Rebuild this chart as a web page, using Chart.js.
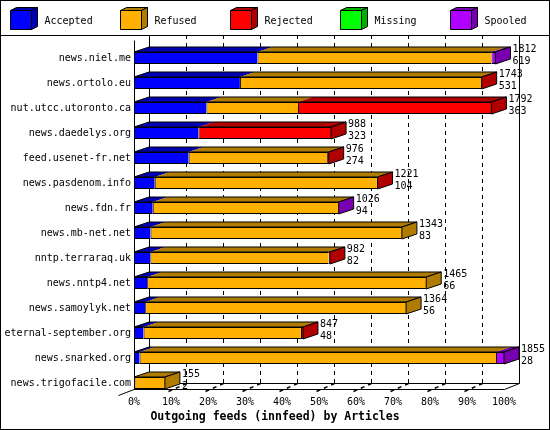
<!DOCTYPE html>
<html>
<head>
<meta charset="utf-8">
<script src="https://cdn.jsdelivr.net/npm/chart.js@4"></script>
<style>
html, body { margin: 0; padding: 0; background: #fff; }
canvas { display: block; }
</style>
</head>
<body>
<canvas id="myChart" width="550" height="430"></canvas>
<script>
// articles per outgoing feed
var hosts = ["news.niel.me", "news.ortolo.eu", "nut.utcc.utoronto.ca", "news.daedelys.org",
    "feed.usenet-fr.net", "news.pasdenom.info", "news.fdn.fr", "news.mb-net.net",
    "nntp.terraraq.uk", "news.nntp4.net", "news.samoylyk.net", "eternal-september.org",
    "news.snarked.org", "news.trigofacile.com"];
var accepted = [619, 531, 363, 323, 274, 104, 94, 83, 82, 66, 56, 48, 28, 2];
var refused  = [1173, 1210, 459, 0, 694, 1114, 929, 1260, 894, 1399, 1308, 789, 1787, 153];
var rejected = [0, 2, 970, 665, 8, 3, 0, 0, 6, 0, 0, 10, 0, 0];
var missing  = [0, 0, 0, 0, 0, 0, 0, 0, 0, 0, 0, 0, 0, 0];
var spooled  = [20, 0, 0, 0, 0, 0, 3, 0, 0, 0, 0, 0, 40, 0];
var seriesNames = ["Accepted", "Refused", "Rejected", "Missing", "Spooled"];
var tickPercents = [0, 10, 20, 30, 40, 50, 60, 70, 80, 90, 100];
var titleText = "Outgoing feeds (innfeed) by Articles";

// colours
var frontColors = ["#0000ff", "#ffb000", "#ff0000", "#00ff00", "#b000ff"];
var darkColors  = ["#0000b0", "#b07c00", "#b00000", "#00b000", "#7800b0"];

var FONT = '"DejaVu Sans Mono", "Liberation Mono", monospace';
var DX = 15, DY = -5;      // bar depth
var WDX = 15, WDY = -6;    // wall depth
var TOP_LINE = 35;

var series = [accepted, refused, rejected, missing, spooled];
var totals = hosts.map(function (h, i) {
    var s = 0;
    for (var k = 0; k < series.length; k++) s += series[k][i];
    return s;
});
var maxTotal = Math.max.apply(null, totals);

function poly(ctx, pts, fill, stroke) {
    ctx.beginPath();
    ctx.moveTo(pts[0][0], pts[0][1]);
    for (var i = 1; i < pts.length; i++) ctx.lineTo(pts[i][0], pts[i][1]);
    ctx.closePath();
    if (fill) { ctx.fillStyle = fill; ctx.fill(); }
    if (stroke) { ctx.strokeStyle = stroke; ctx.lineWidth = 1; ctx.stroke(); }
}

function line(ctx, x1, y1, x2, y2, dash) {
    ctx.beginPath();
    ctx.setLineDash(dash || []);
    ctx.moveTo(x1, y1);
    ctx.lineTo(x2, y2);
    ctx.stroke();
    ctx.setLineDash([]);
}

var bar3d = {
    id: "bar3d",
    beforeDraw: function (chart) {
        var ctx = chart.ctx;
        ctx.save();
        ctx.fillStyle = "#fff";
        ctx.fillRect(0, 0, chart.width, chart.height);
        ctx.restore();
    },
    beforeDatasetsDraw: function (chart) {
        // the 3d box: back wall, floor, axis
        var ctx = chart.ctx, xs = chart.scales.x, a = chart.chartArea;
        var meta = chart.getDatasetMeta(0);
        var last = meta.data[meta.data.length - 1];
        var floorY = Math.round(last.y + last.height / 2) + 0.5;
        var backY = floorY + WDY;
        var x0 = Math.round(xs.getPixelForValue(0)) + 0.5;
        var x1 = Math.round(xs.getPixelForValue(maxTotal)) + 0.5;
        ctx.save();
        ctx.strokeStyle = "#000";
        ctx.lineWidth = 1;
        for (var k = 1; k < tickPercents.length - 1; k++) {
            var xp = Math.round(xs.getPixelForValue(tickPercents[k] * maxTotal / 100)) + 0.5;
            line(ctx, xp + WDX, TOP_LINE, xp + WDX, backY, [4, 4]);
            ctx.lineWidth = 1.5;
            line(ctx, xp - 3, floorY + 2, xp + WDX, backY, [4, 4]);
            ctx.lineWidth = 1;
        }
        line(ctx, x0 + WDX, TOP_LINE, x0 + WDX, backY);
        line(ctx, x1 + WDX, TOP_LINE, x1 + WDX, backY);
        line(ctx, x0 + WDX, backY, x1 + WDX, backY);
        line(ctx, x0, floorY, x1, floorY);
        line(ctx, x0 - 16, floorY + 6, x0 + WDX, backY);
        line(ctx, x1, floorY, x1 + WDX, backY);
        line(ctx, x0, a.top - 5, x0, floorY);
        ctx.restore();
    },
    afterDatasetsDraw: function (chart) {
        var ctx = chart.ctx;
        var metas = chart.data.datasets.map(function (d, k) { return chart.getDatasetMeta(k); });
        ctx.save();
        for (var i = 0; i < hosts.length; i++) {
            var segs = [];
            for (var k = 0; k < metas.length; k++) {
                if (series[k][i] > 0) segs.push({ el: metas[k].data[i], k: k });
            }
            if (!segs.length) continue;
            var first = segs[0].el, lastSeg = segs[segs.length - 1];
            var top = first.y - first.height / 2, bottom = first.y + first.height / 2;
            var xs0 = first.base, xe = lastSeg.el.x;
            segs.forEach(function (s) {
                var b = s.el.base, e = s.el.x;
                poly(ctx, [[b, top], [e, top], [e + DX, top + DY], [b + DX, top + DY]], darkColors[s.k]);
            });
            poly(ctx, [[xs0, top], [xe, top], [xe + DX, top + DY], [xs0 + DX, top + DY]], null, "#000");
            poly(ctx, [[xe, top], [xe + DX, top + DY], [xe + DX, bottom + DY], [xe, bottom]],
                darkColors[lastSeg.k], "#000");
            // total and accepted
            ctx.fillStyle = "#000";
            ctx.font = "10px " + FONT;
            ctx.textAlign = "left";
            ctx.textBaseline = "middle";
            ctx.fillText(String(totals[i]), xe + DX + 2, first.y - 8.5);
            ctx.fillText(String(accepted[i]), xe + DX + 2, first.y + 3);
        }
        ctx.restore();
    },
    afterDraw: function (chart) {
        var ctx = chart.ctx;
        ctx.save();
        ctx.strokeStyle = "#000";
        ctx.lineWidth = 1;
        ctx.strokeRect(0.5, 0.5, chart.width - 1, chart.height - 1);
        line(ctx, 0, TOP_LINE + 0.5, chart.width, TOP_LINE + 0.5);
        // legend with little cubes
        ctx.font = "10px " + FONT;
        ctx.textAlign = "left";
        ctx.textBaseline = "middle";
        chart.data.datasets.forEach(function (d, k) {
            var x = 10.5 + 110 * k, y = 10.5, w = 21, h = 19;
            poly(ctx, [[x, y], [x + w, y], [x + w + 6, y - 3], [x + 6, y - 3]], darkColors[k], "#000");
            poly(ctx, [[x + w, y], [x + w + 6, y - 3], [x + w + 6, y + h - 3], [x + w, y + h]], darkColors[k], "#000");
            poly(ctx, [[x, y], [x + w, y], [x + w, y + h], [x, y + h]], frontColors[k], "#000");
            ctx.fillStyle = "#000";
            ctx.fillText(d.label, x + 34, 21);
        });
        ctx.restore();
    }
};

var ctx = document.getElementById("myChart").getContext("2d");
var myChart = new Chart(ctx, {
    type: "bar",
    data: {
        labels: hosts,
        datasets: series.map(function (d, k) {
            return {
                label: seriesNames[k],
                data: d,
                backgroundColor: frontColors[k],
                borderColor: "#000",
                borderWidth: { left: 1, top: 1, bottom: 1, right: 0 },
                borderSkipped: false,
                inflateAmount: 0,
                barThickness: 12
            };
        })
    },
    options: {
        indexAxis: "y",
        responsive: false,
        animation: false,
        devicePixelRatio: 1,
        layout: { padding: { top: 45.5, bottom: 6.2, left: 0, right: 0 } },
        scales: {
            x: {
                type: "linear", stacked: true, min: 0, max: maxTotal,
                grid: { display: false, drawTicks: false }, border: { display: false },
                afterBuildTicks: function (s) {
                    s.ticks = tickPercents.map(function (p) { return { value: p * maxTotal / 100 }; });
                },
                afterFit: function (s) { s.height = 14.5; },
                ticks: {
                    padding: 1, color: "#000", autoSkip: false, maxRotation: 0,
                    font: { family: FONT, size: 10 },
                    callback: function (v) { return Math.round(v / maxTotal * 100) + "%"; }
                }
            },
            y: {
                stacked: true,
                grid: { display: false, drawTicks: false }, border: { display: false },
                afterFit: function (s) { s.width = 134; },
                ticks: { padding: 3, color: "#000", autoSkip: false, font: { family: FONT, size: 10 } }
            },
            yRight: {
                type: "category", position: "right",
                grid: { display: false, drawTicks: false }, border: { display: false },
                ticks: { display: false },
                afterFit: function (s) { s.width = 46; }
            }
        },
        plugins: {
            legend: { display: false },
            tooltip: { enabled: false },
            title: {
                display: true, position: "bottom", text: titleText, color: "#000",
                font: { family: FONT, size: 11.5, weight: "bold" },
                padding: { top: 0, bottom: 0 }
            }
        }
    },
    plugins: [bar3d]
});
</script>
</body>
</html>
